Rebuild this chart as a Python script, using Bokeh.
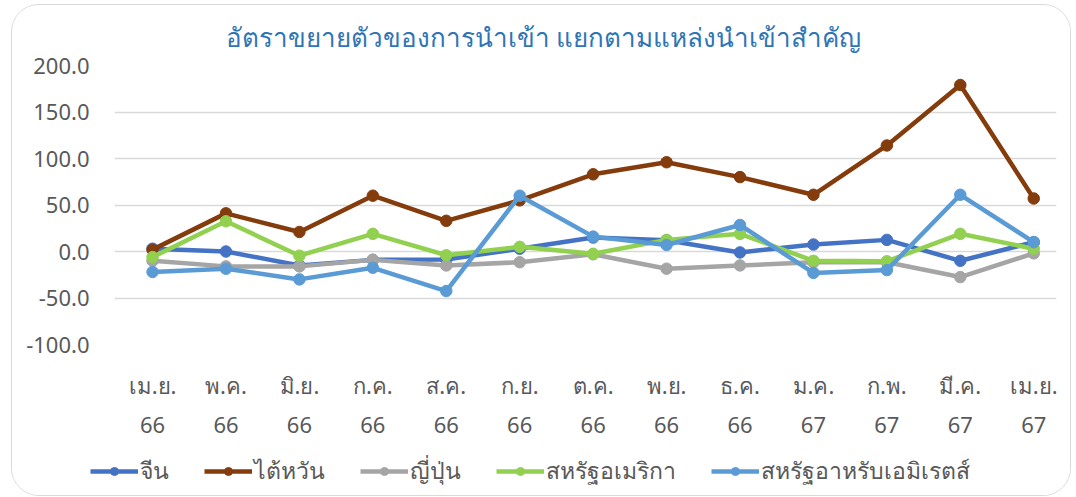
from bokeh.plotting import figure
from bokeh.layouts import column
from bokeh.models import Range1d, FixedTicker, LinearAxis, Legend, LegendItem, NumeralTickFormatter
from bokeh.embed import file_html
from bokeh.resources import INLINE

months = ["เม.ย.", "พ.ค.", "มิ.ย.", "ก.ค.", "ส.ค.", "ก.ย.", "ต.ค.", "พ.ย.", "ธ.ค.", "ม.ค.", "ก.พ.", "มี.ค.", "เม.ย."]
years = ["66", "66", "66", "66", "66", "66", "66", "66", "66", "67", "67", "67", "67"]

series_names = ["จีน", "ไต้หวัน", "ญี่ปุ่น", "สหรัฐอเมริกา", "สหรัฐอาหรับเอมิเรตส์"]
china = [3.0, 0.0, -15.0, -9.0, -8.5, 3.0, 15.0, 12.0, -1.0, 7.5, 12.5, -10.0, 10.0]
taiwan = [2.0, 41.0, 21.0, 60.0, 33.0, 55.0, 83.0, 96.0, 80.0, 61.0, 114.0, 179.0, 57.0]
japan = [-10.0, -16.0, -16.0, -9.0, -15.0, -11.5, -3.0, -18.5, -15.0, -11.5, -11.5, -27.5, -2.0]
usa = [-6.0, 32.5, -4.5, 19.0, -4.0, 5.0, -2.5, 12.5, 19.0, -10.0, -10.5, 19.0, 3.0]
uae = [-22.0, -18.5, -30.0, -17.5, -42.5, 60.0, 16.0, 7.0, 28.5, -23.0, -20.0, 61.0, 10.0]

colors = ["#4472C4", "#843C0C", "#A5A5A5", "#92D050", "#5B9BD5"]
FONT = "Noto Sans"

x = list(range(len(months)))
all_series = [china, taiwan, japan, usa, uae]

p = figure(width=1058, height=448, output_backend="svg", toolbar_location=None,
           x_range=Range1d(-0.518, 12.31), y_range=Range1d(-100, 200),
           min_border_left=102, min_border_right=14, min_border_top=60, min_border_bottom=109,
           x_axis_location=None)
p.outline_line_color = None
p.background_fill_color = "white"
p.border_fill_color = "white"

p.title.text = "อัตราขยายตัวของการนำเข้า แยกตามแหล่งนำเข้าสำคัญ"
p.title.text_font = FONT
p.title.text_font_size = "26px"
p.title.text_font_style = "normal"
p.title.text_color = "#2F75B5"
p.title.align = "left"
p.title.offset = 111
p.title.standoff = 22

p.xgrid.visible = False
p.ygrid.grid_line_color = "#D9D9D9"
p.ygrid.grid_line_width = 1.3
p.yaxis.ticker = FixedTicker(ticks=[-100, -50, 0, 50, 100, 150, 200])
p.yaxis.formatter = NumeralTickFormatter(format="0.0")
p.yaxis.axis_line_color = None
p.yaxis.major_tick_line_color = None
p.yaxis.minor_tick_line_color = None
p.yaxis.major_label_standoff = 19
p.yaxis.major_label_text_font = FONT
p.yaxis.major_label_text_font_size = "22px"
p.yaxis.major_label_text_color = "#595959"

def make_axis(labels, standoff):
    ax = LinearAxis(ticker=FixedTicker(ticks=x),
                    major_label_overrides={i: labels[i] for i in x})
    ax.axis_line_color = None
    ax.major_tick_line_color = None
    ax.minor_tick_line_color = None
    ax.major_label_standoff = standoff
    ax.major_label_text_font = FONT
    ax.major_label_text_font_size = "22px"
    ax.major_label_text_color = "#595959"
    return ax

p.add_layout(make_axis(months, 19), "below")
p.add_layout(make_axis(years, 8), "below")

for vals, c in zip(all_series, colors):
    p.line(x, vals, line_color=c, line_width=4.5)
    p.scatter(x, vals, size=11.5, fill_color=c, line_color=c)

# legend strip below the chart (its own data lie outside its visible range)
pl = figure(width=1058, height=42, output_backend="svg", toolbar_location=None,
            x_range=Range1d(-0.518, 12.31), y_range=Range1d(1000, 1001),
            min_border=0, x_axis_location=None, y_axis_location=None)
pl.frame_align = False
pl.outline_line_color = None
pl.grid.visible = False
pl.border_fill_color = "white"
items = []
for name, vals, c in zip(series_names, all_series, colors):
    r1 = pl.line(x, vals, line_color=c, line_width=4.5)
    r2 = pl.scatter(x, vals, size=11.5, fill_color=c, line_color=c)
    items.append(LegendItem(label=name, renderers=[r1, r2]))
legend = Legend(items=items, orientation="horizontal", location=(78, 6),
                glyph_width=48, glyph_height=20, label_standoff=2, spacing=35,
                padding=0, margin=0, border_line_color=None, background_fill_alpha=0,
                label_text_font=FONT, label_text_font_size="23px", label_text_color="#595959")
pl.add_layout(legend, "center")

layout = column(p, pl, spacing=0)
layout.styles = {"border": "1.5px solid #d9d9d9", "border-radius": "28px",
                 "margin": "4px 0 0 11px", "overflow": "hidden", "background": "white"}

open("out.html", "w").write(file_html(layout, INLINE))
